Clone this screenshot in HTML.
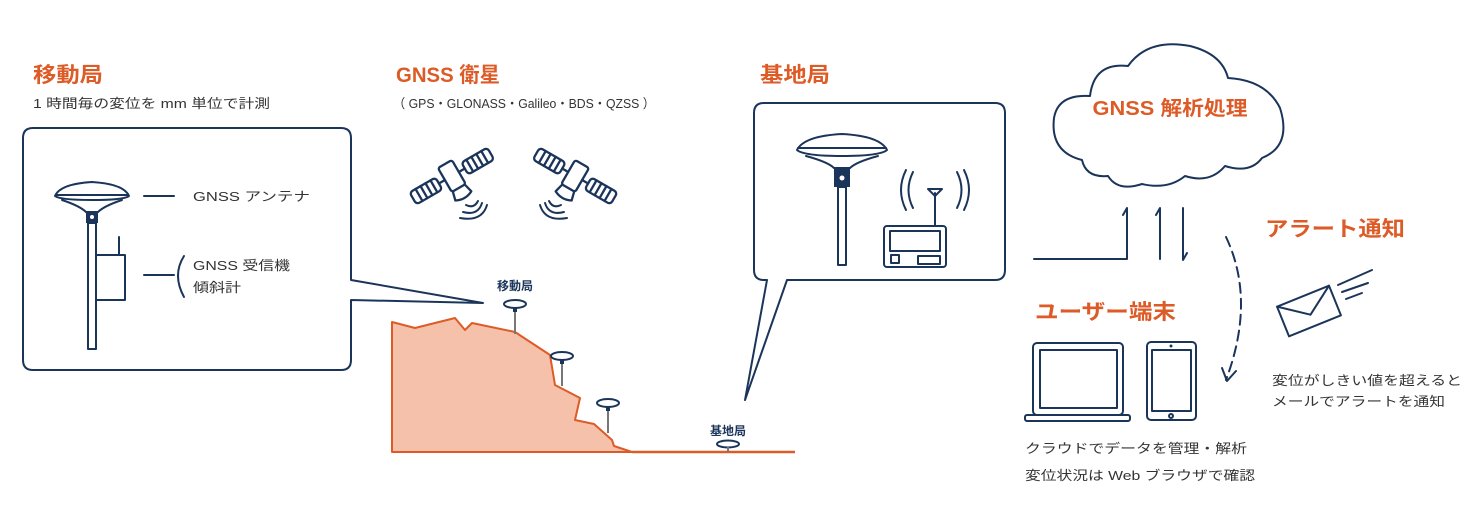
<!DOCTYPE html>
<html><head><meta charset="utf-8"><style>
html,body{margin:0;padding:0;background:#fff;}
svg{display:block}
text{font-family:"Liberation Sans","Noto Sans CJK JP",sans-serif;}
.o{fill:#dd5b26;font-weight:bold;}
.g{fill:#333;font-size:13px;}
.s{fill:none;stroke:#1b355a;stroke-width:2;stroke-linejoin:round;stroke-linecap:round}
</style></head><body>
<svg width="1472" height="517" viewBox="0 0 1472 517" xmlns="http://www.w3.org/2000/svg">
<defs>
<g id="sat">
  <rect x="-7" y="-14" width="14" height="24" rx="2" class="s"/>
  <line x1="7" y1="-2" x2="13" y2="-2" class="s"/>
  <line x1="-7" y1="-2" x2="-13" y2="-2" class="s"/>
  <rect x="13" y="-8" width="26" height="12" rx="3" class="s"/>
  <rect x="-39" y="-8" width="26" height="12" rx="3" class="s"/>
  <path d="M18 -8V4M23 -8V4M28 -8V4M33 -8V4M-18 -8V4M-23 -8V4M-28 -8V4M-33 -8V4" class="s" stroke-width="1.5"/>
  <path d="M-6 10 L-8 18 Q0 22 8 18 L6 10" class="s"/>
</g>
<g id="ant">
  <ellipse cx="0" cy="0" rx="11" ry="4" class="s" stroke-width="1.5"/>
  <line x1="0" y1="4" x2="0" y2="30" stroke="#777" stroke-width="2"/>
  <rect x="-2" y="4" width="4" height="4" fill="#1b355a"/>
</g>
</defs>

<!-- titles -->
<text x="33" y="82" class="o" font-size="21" textLength="70" lengthAdjust="spacingAndGlyphs">移動局</text>
<text x="33" y="108" class="g" textLength="237" lengthAdjust="spacingAndGlyphs">1 時間毎の変位を mm 単位で計測</text>
<text x="396" y="82" class="o" font-size="21" textLength="104" lengthAdjust="spacingAndGlyphs">GNSS 衛星</text>
<text x="393" y="108" class="g" textLength="262" lengthAdjust="spacingAndGlyphs">（ GPS・GLONASS・Galileo・BDS・QZSS ）</text>
<text x="760" y="82" class="o" font-size="21" textLength="70" lengthAdjust="spacingAndGlyphs">基地局</text>

<!-- left box -->
<path d="M33 128 H341 Q351 128 351 138 V280 L483 303 L351 300 V360 Q351 370 341 370 H33 Q23 370 23 360 V138 Q23 128 33 128 Z" class="s"/>
<path d="M55 196 Q60 184 92 182 Q124 184 129 196 Q124 200 92 200 Q60 200 55 196 Z" class="s"/>
<line x1="56" y1="195" x2="128" y2="195" class="s" stroke-width="1.5"/>
<path d="M62 200 Q80 206 86 212 H98 Q104 206 122 200" class="s"/>
<rect x="86" y="212" width="12" height="11" fill="#1b355a"/>
<circle cx="92" cy="217" r="2" fill="#fff"/>
<rect x="88" y="223" width="8" height="126" class="s"/>
<line x1="119" y1="237" x2="119" y2="255" class="s"/>
<rect x="96" y="255" width="29" height="45" class="s"/>
<line x1="144" y1="196" x2="174" y2="196" class="s"/>
<text x="193" y="201" class="g" font-size="14" textLength="117" lengthAdjust="spacingAndGlyphs">GNSS アンテナ</text>
<line x1="144" y1="275" x2="174" y2="275" class="s"/>
<path d="M184 256 Q172 275 184 297" class="s"/>
<text x="193" y="270" class="g" font-size="14" textLength="97" lengthAdjust="spacingAndGlyphs">GNSS 受信機</text>
<text x="193" y="292" class="g" font-size="14" textLength="48" lengthAdjust="spacingAndGlyphs">傾斜計</text>

<!-- satellites -->
<g transform="translate(453,178) scale(1.15) rotate(-30)"><use href="#sat"/></g>
<path d="M466 205 Q474 209 478 201 M463 212 Q478 216 482 203 M460 218 Q482 222 487 205" class="s" stroke-width="1.5"/>
<g transform="translate(574,178) scale(-1.15,1.15) rotate(-30)"><use href="#sat"/></g>
<path d="M561 205 Q553 209 549 201 M564 212 Q549 216 545 203 M567 218 Q545 222 540 205" class="s" stroke-width="1.5"/>

<!-- terrain -->
<path d="M392 322 L415 328 L455 318 L465 330 L472 323 L515 332 L550 355 L555 385 L580 398 L575 420 L594 424 L612 440 L614 446 L632 452 L392 452 Z" fill="#f6c1aa" stroke="#dd5b26" stroke-width="2" stroke-linejoin="round"/>
<line x1="632" y1="452" x2="795" y2="452" stroke="#dd5b26" stroke-width="2.5"/>
<text x="515" y="290" text-anchor="middle" font-size="12" font-weight="bold" fill="#1b355a">移動局</text>
<g transform="translate(515,304)"><use href="#ant"/></g>
<g transform="translate(562,356)"><use href="#ant"/></g>
<g transform="translate(608,403)"><use href="#ant"/></g>
<text x="728" y="435" text-anchor="middle" font-size="12" font-weight="bold" fill="#1b355a">基地局</text>
<ellipse cx="728" cy="444" rx="11" ry="3.5" class="s" stroke-width="1.5"/>
<line x1="728" y1="447" x2="728" y2="452" stroke="#777" stroke-width="2"/>

<!-- base box -->
<path d="M764 103 H995 Q1005 103 1005 113 V270 Q1005 280 995 280 H787 L745 400 L767 280 H764 Q754 280 754 270 V113 Q754 103 764 103 Z" class="s"/>
<path d="M797 150 Q804 136 842 134 Q880 136 887 150 Q880 156 842 156 Q804 156 797 150 Z" class="s"/>
<line x1="798" y1="148" x2="886" y2="148" class="s" stroke-width="1.5"/>
<path d="M806 156 Q828 162 834 168 H850 Q856 162 878 156" class="s"/>
<rect x="834" y="168" width="16" height="19" fill="#1b355a"/>
<circle cx="842" cy="178" r="2.5" fill="#fff"/>
<rect x="838" y="187" width="8" height="78" class="s"/>
<rect x="884" y="226" width="62" height="41" rx="3" class="s"/>
<rect x="890" y="231" width="50" height="20" class="s" stroke-width="1.5"/>
<rect x="891" y="255" width="8" height="8" class="s" stroke-width="1.5"/>
<rect x="918" y="256" width="22" height="8" class="s" stroke-width="1.5"/>
<line x1="935" y1="193" x2="935" y2="226" class="s"/>
<path d="M928 189 H942 L935 196 Z" class="s" stroke-width="1.5"/>
<path d="M913 172 Q904 190 913 208 M906 170 Q896 190 906 210" class="s" stroke-width="1.5"/>
<path d="M957 172 Q966 190 957 208 M964 170 Q974 190 964 210" class="s" stroke-width="1.5"/>

<!-- cloud -->
<path d="M1082 160 Q1050 152 1054 118 Q1058 94 1090 96 Q1094 62 1128 66 Q1148 38 1190 46 Q1222 54 1228 78 Q1266 80 1280 108 Q1292 146 1262 158 Q1250 174 1225 166 Q1210 184 1185 176 Q1168 190 1142 184 Q1118 192 1108 176 Q1086 178 1082 160 Z" class="s"/>
<text x="1170" y="115" text-anchor="middle" class="o" font-size="20" textLength="155" lengthAdjust="spacingAndGlyphs">GNSS 解析処理</text>

<!-- arrows -->
<path d="M1034 259 H1127 V208 L1123 215" class="s"/>
<path d="M1160 259 V208 L1156 215" class="s"/>
<path d="M1183 208 V260 L1187 253" class="s"/>
<path d="M1226 237 Q1256 300 1226 380" class="s" stroke-dasharray="10 6"/>
<path d="M1222 368 L1227 381 L1236 371" class="s"/>

<text x="1265" y="236" class="o" font-size="21" textLength="140" lengthAdjust="spacingAndGlyphs">アラート通知</text>
<text x="1035" y="319" class="o" font-size="21" textLength="141" lengthAdjust="spacingAndGlyphs">ユーザー端末</text>

<!-- envelope -->
<g transform="translate(1309,311) rotate(-22)">
<rect x="-28" y="-16" width="56" height="32" class="s"/>
<path d="M-28 -16 L0 4 L28 -16" class="s"/>
</g>
<path d="M1338 285 L1372 270 M1342 292 L1368 283 M1346 299 L1362 293" class="s"/>
<text x="1272" y="385" class="g" font-size="14" textLength="190" lengthAdjust="spacingAndGlyphs">変位がしきい値を超えると</text>
<text x="1272" y="406" class="g" font-size="14" textLength="173" lengthAdjust="spacingAndGlyphs">メールでアラートを通知</text>

<!-- laptop / tablet -->
<rect x="1033" y="343" width="90" height="72" rx="4" class="s"/>
<rect x="1040" y="350" width="77" height="58" class="s" stroke-width="1.5"/>
<rect x="1025" y="415" width="105" height="6" rx="2" class="s"/>
<rect x="1147" y="342" width="49" height="78" rx="4" class="s"/>
<rect x="1152" y="350" width="39" height="61" class="s" stroke-width="1.5"/>
<circle cx="1171" cy="346" r="1.5" fill="#1b355a"/>
<circle cx="1171" cy="416" r="2" class="s" stroke-width="1.2"/>
<text x="1025" y="453" class="g" font-size="14" textLength="222" lengthAdjust="spacingAndGlyphs">クラウドでデータを管理・解析</text>
<text x="1025" y="480" class="g" font-size="14" textLength="230" lengthAdjust="spacingAndGlyphs">変位状況は Web ブラウザで確認</text>
</svg>
</body></html>
